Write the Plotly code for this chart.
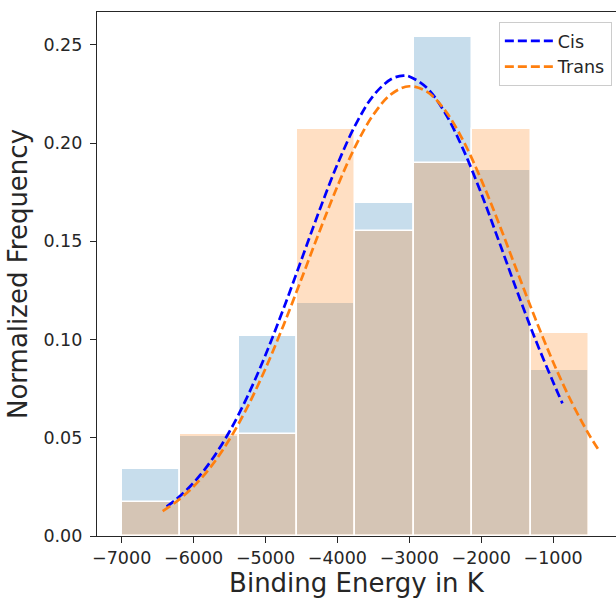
import plotly.graph_objects as go

# Histogram bins (binding energy, K)
bin_edges = [-7000, -6187.5, -5375, -4562.5, -3750, -2937.5, -2125, -1312.5, -500]

# Normalized frequency per bin
cis_freq = [0.0339, 0.0508, 0.1017, 0.1186, 0.1695, 0.2542, 0.1864, 0.0847]
trans_freq = [0.0172, 0.0517, 0.0517, 0.2069, 0.1552, 0.1897, 0.2069, 0.1034]

# Fitted distribution curves
cis_curve_x = [-6375, -6250, -6000, -5750, -5500, -5250, -5000, -4750, -4500, -4250, -4000, -3750, -3500,
               -3250, -3080, -3000, -2750, -2500, -2250, -2000, -1750, -1500, -1250, -1000, -870]
cis_curve_y = [0.0150, 0.0184, 0.0271, 0.0386, 0.0532, 0.0711, 0.0921, 0.1156, 0.1406, 0.1657, 0.1891, 0.2091, 0.2241,
               0.2326, 0.2343, 0.2339, 0.2279, 0.2152, 0.1968, 0.1744, 0.1497, 0.1245, 0.1004, 0.0784, 0.0675]

trans_curve_x = [-6430, -6250, -6000, -5750, -5500, -5250, -5000, -4750, -4500, -4250, -4000, -3750, -3500,
                 -3250, -3000, -2750, -2500, -2250, -2000, -1750, -1500, -1250, -1000, -750, -500, -350]
trans_curve_y = [0.0127, 0.0172, 0.0252, 0.0357, 0.0492, 0.0657, 0.0852, 0.1072, 0.1308, 0.1549, 0.1779, 0.1983, 0.2144,
                 0.2249, 0.2289, 0.2260, 0.2165, 0.2012, 0.1814, 0.1587, 0.1347, 0.1109, 0.0886, 0.0687, 0.0516, 0.0429]

x_ticks = [-7000, -6000, -5000, -4000, -3000, -2000, -1000]
y_ticks = [0.00, 0.05, 0.10, 0.15, 0.20, 0.25]

centers = [(a + b) / 2 for a, b in zip(bin_edges[:-1], bin_edges[1:])]
widths = [b - a for a, b in zip(bin_edges[:-1], bin_edges[1:])]

FONT = "DejaVu Sans"
TEXT = "#262626"

fig = go.Figure()

fig.add_trace(go.Bar(
    x=centers, y=cis_freq, width=widths,
    marker=dict(color="rgba(31,119,180,0.25)", line=dict(color="white", width=1.5)),
    showlegend=False, hoverinfo="skip",
))
fig.add_trace(go.Bar(
    x=centers, y=trans_freq, width=widths,
    marker=dict(color="rgba(255,127,14,0.25)", line=dict(color="white", width=1.5)),
    showlegend=False, hoverinfo="skip",
))

fig.add_trace(go.Scatter(
    x=cis_curve_x, y=cis_curve_y, mode="lines", name="Cis",
    line=dict(color="#0000ff", width=2.7, dash="9px,4px", shape="spline", smoothing=1),
))
fig.add_trace(go.Scatter(
    x=trans_curve_x, y=trans_curve_y, mode="lines", name="Trans",
    line=dict(color="#ff7f0e", width=2.7, dash="9px,4px", shape="spline", smoothing=1),
))

fig.update_layout(
    width=616, height=600, autosize=False,
    margin=dict(l=97, r=0, t=12, b=64, pad=0),
    barmode="overlay", bargap=0,
    plot_bgcolor="white", paper_bgcolor="white",
    font=dict(family=FONT, size=17.5, color=TEXT),
    legend=dict(
        x=0.992, y=0.981, xanchor="right", yanchor="top",
        bgcolor="rgba(255,255,255,0.8)", bordercolor="#cccccc", borderwidth=1,
        font=dict(family=FONT, size=17.5, color=TEXT),
        itemwidth=48, tracegroupgap=0,
    ),
)

fig.update_xaxes(
    range=[-7343, -125],
    tickvals=x_ticks,
    ticktext=["\u2212" + str(abs(v)) for v in x_ticks],
    ticks="outside", ticklen=6, tickwidth=1.25, tickcolor=TEXT,
    showline=True, linecolor=TEXT, linewidth=1.25, mirror=True,
    showgrid=False, zeroline=False,
    tickfont=dict(family=FONT, size=17.5, color=TEXT),
    title=dict(text="Binding Energy in K", font=dict(family=FONT, size=26, color=TEXT), standoff=4),
)
fig.update_yaxes(
    range=[0, 0.2667],
    tickvals=y_ticks,
    ticktext=["%.2f" % v for v in y_ticks],
    ticks="outside", ticklen=6, tickwidth=1.25, tickcolor=TEXT,
    showline=True, linecolor=TEXT, linewidth=1.25,
    showgrid=False, zeroline=False,
    tickfont=dict(family=FONT, size=17.5, color=TEXT),
    ticklabelstandoff=4,
    title=dict(text="Normalized Frequency", font=dict(family=FONT, size=26, color=TEXT), standoff=8),
)

fig.write_html("out.html")
